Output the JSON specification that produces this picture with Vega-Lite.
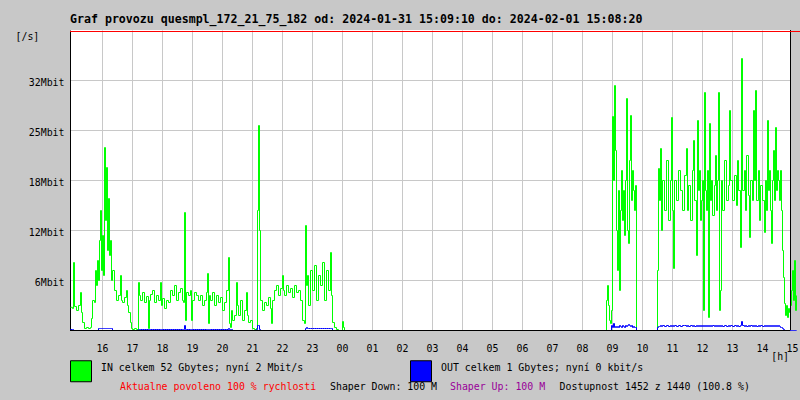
{
  "$schema": "https://vega.github.io/schema/vega-lite/v6.json",
  "width": 720,
  "height": 300,
  "autosize": {"type": "none"},
  "padding": {"left": 70, "top": 30, "right": 10, "bottom": 70},
  "background": "#c8c8c8",
  "view": {"fill": "#ffffff", "stroke": null},
  "title": {
    "text": "Graf provozu quesmpl_172_21_75_182 od: 2024-01-31 15:09:10 do: 2024-02-01 15:08:20",
    "anchor": "start",
    "frame": "group",
    "font": "DejaVu Sans Mono",
    "fontSize": 11.6,
    "fontWeight": "bold",
    "color": "#000000",
    "baseline": "alphabetic",
    "offset": 7,
    "dy": 12
  },
  "config": {
    "axis": {
      "labelFont": "DejaVu Sans Mono",
      "labelFontSize": 9.9,
      "labelColor": "#000000",
      "titleFont": "DejaVu Sans Mono",
      "titleFontSize": 9.9,
      "titleFontWeight": "normal",
      "titleColor": "#000000",
      "gridColor": "#c8c8c8",
      "gridOpacity": 1,
      "gridWidth": 1,
      "domainColor": "#000000",
      "domainWidth": 1,
      "ticks": false,
      "tickSize": 0
    },
    "legend": {
      "labelFont": "DejaVu Sans Mono",
      "labelFontSize": 9.9
    }
  },
  "resolve": {"axis": {"y": "independent"}},
  "data": {
    "format": {"parse": {"t": "utc:'%Y-%m-%d %H:%M'"}},
    "values": [
      {"t": "2024-01-31 14:56", "IN": 2.9, "OUT": 0.125},
      {"t": "2024-01-31 15:00", "IN": 2.75, "OUT": 0.125},
      {"t": "2024-01-31 15:02", "IN": 8.5, "OUT": 0},
      {"t": "2024-01-31 15:04", "IN": 3, "OUT": 0},
      {"t": "2024-01-31 15:08", "IN": 2.5, "OUT": 0},
      {"t": "2024-01-31 15:12", "IN": 3.125, "OUT": 0},
      {"t": "2024-01-31 15:16", "IN": 4.75, "OUT": 0},
      {"t": "2024-01-31 15:18", "IN": 2.25, "OUT": 0},
      {"t": "2024-01-31 15:20", "IN": 1, "OUT": 0},
      {"t": "2024-01-31 15:24", "IN": 0.25, "OUT": 0},
      {"t": "2024-01-31 15:28", "IN": 0.375, "OUT": 0},
      {"t": "2024-01-31 15:32", "IN": 0.25, "OUT": 0},
      {"t": "2024-01-31 15:36", "IN": 0.375, "OUT": 0},
      {"t": "2024-01-31 15:38", "IN": 1.5, "OUT": 0},
      {"t": "2024-01-31 15:40", "IN": 3.75, "OUT": 0},
      {"t": "2024-01-31 15:44", "IN": 3.5, "OUT": 0},
      {"t": "2024-01-31 15:46", "IN": 7.5, "OUT": 0},
      {"t": "2024-01-31 15:48", "IN": 5.625, "OUT": 0},
      {"t": "2024-01-31 15:50", "IN": 8.75, "OUT": 0},
      {"t": "2024-01-31 15:52", "IN": 6.25, "OUT": 0.25},
      {"t": "2024-01-31 15:54", "IN": 11.25, "OUT": 0.25},
      {"t": "2024-01-31 15:56", "IN": 15, "OUT": 0.25},
      {"t": "2024-01-31 15:58", "IN": 7.5, "OUT": 0.25},
      {"t": "2024-01-31 16:00", "IN": 11.875, "OUT": 0.25},
      {"t": "2024-01-31 16:02", "IN": 6.875, "OUT": 0.25},
      {"t": "2024-01-31 16:04", "IN": 22.875, "OUT": 0.25},
      {"t": "2024-01-31 16:06", "IN": 13.75, "OUT": 0.25},
      {"t": "2024-01-31 16:08", "IN": 20.375, "OUT": 0.25},
      {"t": "2024-01-31 16:10", "IN": 10, "OUT": 0.25},
      {"t": "2024-01-31 16:12", "IN": 16.5, "OUT": 0.25},
      {"t": "2024-01-31 16:14", "IN": 9.375, "OUT": 0.25},
      {"t": "2024-01-31 16:16", "IN": 11.25, "OUT": 0.25},
      {"t": "2024-01-31 16:18", "IN": 6.25, "OUT": 0.25},
      {"t": "2024-01-31 16:20", "IN": 7.5, "OUT": 0},
      {"t": "2024-01-31 16:24", "IN": 5, "OUT": 0},
      {"t": "2024-01-31 16:28", "IN": 3.75, "OUT": 0},
      {"t": "2024-01-31 16:32", "IN": 4.375, "OUT": 0},
      {"t": "2024-01-31 16:36", "IN": 6.875, "OUT": 0},
      {"t": "2024-01-31 16:38", "IN": 3.75, "OUT": 0},
      {"t": "2024-01-31 16:40", "IN": 3.5, "OUT": 0},
      {"t": "2024-01-31 16:44", "IN": 4.125, "OUT": 0},
      {"t": "2024-01-31 16:48", "IN": 5, "OUT": 0},
      {"t": "2024-01-31 16:50", "IN": 3.125, "OUT": 0},
      {"t": "2024-01-31 16:52", "IN": 2.25, "OUT": 0},
      {"t": "2024-01-31 16:56", "IN": 1, "OUT": 0},
      {"t": "2024-01-31 16:58", "IN": 0.25, "OUT": 0},
      {"t": "2024-01-31 17:00", "IN": 0.125, "OUT": 0},
      {"t": "2024-01-31 17:04", "IN": 0.25, "OUT": 0},
      {"t": "2024-01-31 17:08", "IN": 0.125, "OUT": 0},
      {"t": "2024-01-31 17:12", "IN": 6, "OUT": 0.125},
      {"t": "2024-01-31 17:14", "IN": 4.375, "OUT": 0.125},
      {"t": "2024-01-31 17:16", "IN": 3.75, "OUT": 0.125},
      {"t": "2024-01-31 17:20", "IN": 4.75, "OUT": 0.125},
      {"t": "2024-01-31 17:24", "IN": 3.5, "OUT": 0.125},
      {"t": "2024-01-31 17:28", "IN": 4.25, "OUT": 0.125},
      {"t": "2024-01-31 17:32", "IN": 0.25, "OUT": 0.125},
      {"t": "2024-01-31 17:34", "IN": 3.75, "OUT": 0.125},
      {"t": "2024-01-31 17:36", "IN": 4.5, "OUT": 0.125},
      {"t": "2024-01-31 17:40", "IN": 5, "OUT": 0.125},
      {"t": "2024-01-31 17:44", "IN": 3.5, "OUT": 0.125},
      {"t": "2024-01-31 17:48", "IN": 4.375, "OUT": 0.125},
      {"t": "2024-01-31 17:52", "IN": 3.75, "OUT": 0.125},
      {"t": "2024-01-31 17:56", "IN": 6, "OUT": 0.125},
      {"t": "2024-01-31 17:58", "IN": 3.125, "OUT": 0.125},
      {"t": "2024-01-31 18:00", "IN": 4, "OUT": 0.125},
      {"t": "2024-01-31 18:04", "IN": 2.75, "OUT": 0.125},
      {"t": "2024-01-31 18:08", "IN": 3.75, "OUT": 0.125},
      {"t": "2024-01-31 18:12", "IN": 3.5, "OUT": 0.125},
      {"t": "2024-01-31 18:16", "IN": 5, "OUT": 0.125},
      {"t": "2024-01-31 18:20", "IN": 4.375, "OUT": 0.125},
      {"t": "2024-01-31 18:24", "IN": 5.625, "OUT": 0.125},
      {"t": "2024-01-31 18:28", "IN": 3.75, "OUT": 0.125},
      {"t": "2024-01-31 18:32", "IN": 4.75, "OUT": 0.125},
      {"t": "2024-01-31 18:36", "IN": 5.25, "OUT": 0.125},
      {"t": "2024-01-31 18:40", "IN": 3.75, "OUT": 0.125},
      {"t": "2024-01-31 18:42", "IN": 3.5, "OUT": 0.125},
      {"t": "2024-01-31 18:44", "IN": 14.75, "OUT": 0.625},
      {"t": "2024-01-31 18:46", "IN": 1.25, "OUT": 0.125},
      {"t": "2024-01-31 18:48", "IN": 4.75, "OUT": 0.125},
      {"t": "2024-01-31 18:52", "IN": 4.375, "OUT": 0.125},
      {"t": "2024-01-31 18:56", "IN": 5, "OUT": 0.125},
      {"t": "2024-01-31 18:58", "IN": 1.25, "OUT": 0.125},
      {"t": "2024-01-31 19:00", "IN": 3.75, "OUT": 0.125},
      {"t": "2024-01-31 19:04", "IN": 4.75, "OUT": 0.125},
      {"t": "2024-01-31 19:08", "IN": 4.375, "OUT": 0.125},
      {"t": "2024-01-31 19:12", "IN": 3.75, "OUT": 0.125},
      {"t": "2024-01-31 19:16", "IN": 4.375, "OUT": 0.125},
      {"t": "2024-01-31 19:20", "IN": 3.125, "OUT": 0.125},
      {"t": "2024-01-31 19:24", "IN": 3.75, "OUT": 0.125},
      {"t": "2024-01-31 19:28", "IN": 4.75, "OUT": 0.125},
      {"t": "2024-01-31 19:30", "IN": 7.125, "OUT": 0.125},
      {"t": "2024-01-31 19:32", "IN": 0.875, "OUT": 0.125},
      {"t": "2024-01-31 19:34", "IN": 4.375, "OUT": 0.125},
      {"t": "2024-01-31 19:36", "IN": 3.75, "OUT": 0.125},
      {"t": "2024-01-31 19:40", "IN": 4.75, "OUT": 0.125},
      {"t": "2024-01-31 19:44", "IN": 3.125, "OUT": 0.125},
      {"t": "2024-01-31 19:48", "IN": 4.375, "OUT": 0.125},
      {"t": "2024-01-31 19:52", "IN": 3.5, "OUT": 0.125},
      {"t": "2024-01-31 19:56", "IN": 4.125, "OUT": 0.125},
      {"t": "2024-01-31 20:00", "IN": 2.5, "OUT": 0.125},
      {"t": "2024-01-31 20:04", "IN": 3.5, "OUT": 0.125},
      {"t": "2024-01-31 20:08", "IN": 5, "OUT": 0.125},
      {"t": "2024-01-31 20:12", "IN": 9.125, "OUT": 0.25},
      {"t": "2024-01-31 20:14", "IN": 0.875, "OUT": 0.125},
      {"t": "2024-01-31 20:16", "IN": 0.375, "OUT": 0.125},
      {"t": "2024-01-31 20:18", "IN": 2.5, "OUT": 0.125},
      {"t": "2024-01-31 20:20", "IN": 1.25, "OUT": 0},
      {"t": "2024-01-31 20:24", "IN": 1.875, "OUT": 0},
      {"t": "2024-01-31 20:28", "IN": 6, "OUT": 0},
      {"t": "2024-01-31 20:30", "IN": 3.125, "OUT": 0},
      {"t": "2024-01-31 20:32", "IN": 1.875, "OUT": 0},
      {"t": "2024-01-31 20:36", "IN": 3.75, "OUT": 0},
      {"t": "2024-01-31 20:40", "IN": 1.25, "OUT": 0},
      {"t": "2024-01-31 20:44", "IN": 2.5, "OUT": 0},
      {"t": "2024-01-31 20:48", "IN": 4.75, "OUT": 0},
      {"t": "2024-01-31 20:50", "IN": 1.875, "OUT": 0},
      {"t": "2024-01-31 20:52", "IN": 1, "OUT": 0},
      {"t": "2024-01-31 20:56", "IN": 1.25, "OUT": 0},
      {"t": "2024-01-31 21:00", "IN": 0.25, "OUT": 0},
      {"t": "2024-01-31 21:04", "IN": 0.125, "OUT": 0},
      {"t": "2024-01-31 21:08", "IN": 0.25, "OUT": 0.125},
      {"t": "2024-01-31 21:10", "IN": 15, "OUT": 0.625},
      {"t": "2024-01-31 21:12", "IN": 25.625, "OUT": 0.625},
      {"t": "2024-01-31 21:14", "IN": 12.5, "OUT": 0.125},
      {"t": "2024-01-31 21:16", "IN": 3.75, "OUT": 0},
      {"t": "2024-01-31 21:20", "IN": 2.5, "OUT": 0},
      {"t": "2024-01-31 21:24", "IN": 3.5, "OUT": 0},
      {"t": "2024-01-31 21:28", "IN": 3.125, "OUT": 0},
      {"t": "2024-01-31 21:32", "IN": 4.125, "OUT": 0},
      {"t": "2024-01-31 21:36", "IN": 2.75, "OUT": 0},
      {"t": "2024-01-31 21:38", "IN": 0.875, "OUT": 0},
      {"t": "2024-01-31 21:40", "IN": 3.75, "OUT": 0},
      {"t": "2024-01-31 21:44", "IN": 5, "OUT": 0},
      {"t": "2024-01-31 21:48", "IN": 5.625, "OUT": 0},
      {"t": "2024-01-31 21:52", "IN": 4.375, "OUT": 0},
      {"t": "2024-01-31 21:56", "IN": 5.25, "OUT": 0},
      {"t": "2024-01-31 22:00", "IN": 6.875, "OUT": 0},
      {"t": "2024-01-31 22:02", "IN": 5, "OUT": 0},
      {"t": "2024-01-31 22:04", "IN": 4.375, "OUT": 0},
      {"t": "2024-01-31 22:08", "IN": 5.625, "OUT": 0},
      {"t": "2024-01-31 22:12", "IN": 4.75, "OUT": 0},
      {"t": "2024-01-31 22:16", "IN": 5.25, "OUT": 0},
      {"t": "2024-01-31 22:20", "IN": 4.125, "OUT": 0},
      {"t": "2024-01-31 22:24", "IN": 5.625, "OUT": 0},
      {"t": "2024-01-31 22:28", "IN": 4.75, "OUT": 0},
      {"t": "2024-01-31 22:32", "IN": 5, "OUT": 0},
      {"t": "2024-01-31 22:36", "IN": 3.75, "OUT": 0},
      {"t": "2024-01-31 22:40", "IN": 1.25, "OUT": 0},
      {"t": "2024-01-31 22:44", "IN": 0.875, "OUT": 0},
      {"t": "2024-01-31 22:46", "IN": 13.125, "OUT": 0.25},
      {"t": "2024-01-31 22:48", "IN": 5.625, "OUT": 0.375},
      {"t": "2024-01-31 22:50", "IN": 6.875, "OUT": 0.25},
      {"t": "2024-01-31 22:52", "IN": 3.125, "OUT": 0.25},
      {"t": "2024-01-31 22:56", "IN": 7.5, "OUT": 0.25},
      {"t": "2024-01-31 23:00", "IN": 5, "OUT": 0.25},
      {"t": "2024-01-31 23:04", "IN": 8.125, "OUT": 0.25},
      {"t": "2024-01-31 23:08", "IN": 3.75, "OUT": 0.25},
      {"t": "2024-01-31 23:12", "IN": 6.875, "OUT": 0.25},
      {"t": "2024-01-31 23:16", "IN": 5.625, "OUT": 0.25},
      {"t": "2024-01-31 23:20", "IN": 8.5, "OUT": 0.25},
      {"t": "2024-01-31 23:24", "IN": 3.75, "OUT": 0.25},
      {"t": "2024-01-31 23:28", "IN": 7.5, "OUT": 0.25},
      {"t": "2024-01-31 23:32", "IN": 5, "OUT": 0.25},
      {"t": "2024-01-31 23:36", "IN": 9.75, "OUT": 0.25},
      {"t": "2024-01-31 23:38", "IN": 4.375, "OUT": 0.25},
      {"t": "2024-01-31 23:40", "IN": 1, "OUT": 0},
      {"t": "2024-01-31 23:44", "IN": 0.375, "OUT": 0},
      {"t": "2024-01-31 23:48", "IN": 0.125, "OUT": 0},
      {"t": "2024-01-31 23:52", "IN": 0, "OUT": 0},
      {"t": "2024-02-01 00:00", "IN": 1.125, "OUT": 0},
      {"t": "2024-02-01 00:02", "IN": 0.375, "OUT": 0},
      {"t": "2024-02-01 00:04", "IN": 0, "OUT": 0},
      {"t": "2024-02-01 08:46", "IN": 0, "OUT": 0},
      {"t": "2024-02-01 08:48", "IN": 3.75, "OUT": 0},
      {"t": "2024-02-01 08:50", "IN": 5.625, "OUT": 0},
      {"t": "2024-02-01 08:52", "IN": 3.125, "OUT": 0},
      {"t": "2024-02-01 08:54", "IN": 1.25, "OUT": 0},
      {"t": "2024-02-01 08:56", "IN": 0.875, "OUT": 0},
      {"t": "2024-02-01 08:58", "IN": 2.5, "OUT": 0.625},
      {"t": "2024-02-01 09:00", "IN": 26.75, "OUT": 0.375},
      {"t": "2024-02-01 09:02", "IN": 18.75, "OUT": 0.875},
      {"t": "2024-02-01 09:04", "IN": 30.625, "OUT": 0.375},
      {"t": "2024-02-01 09:06", "IN": 22.5, "OUT": 0.5},
      {"t": "2024-02-01 09:08", "IN": 12.5, "OUT": 0.375},
      {"t": "2024-02-01 09:10", "IN": 7.5, "OUT": 0.5},
      {"t": "2024-02-01 09:12", "IN": 17.5, "OUT": 0.375},
      {"t": "2024-02-01 09:14", "IN": 5, "OUT": 0.625},
      {"t": "2024-02-01 09:16", "IN": 15, "OUT": 0.5},
      {"t": "2024-02-01 09:18", "IN": 20, "OUT": 0.375},
      {"t": "2024-02-01 09:20", "IN": 13.75, "OUT": 0.625},
      {"t": "2024-02-01 09:22", "IN": 17.5, "OUT": 0.5},
      {"t": "2024-02-01 09:24", "IN": 11.875, "OUT": 0.375},
      {"t": "2024-02-01 09:26", "IN": 18.75, "OUT": 0.625},
      {"t": "2024-02-01 09:28", "IN": 29, "OUT": 0.5},
      {"t": "2024-02-01 09:30", "IN": 12.5, "OUT": 0.625},
      {"t": "2024-02-01 09:32", "IN": 10.875, "OUT": 0.75},
      {"t": "2024-02-01 09:34", "IN": 21.25, "OUT": 0.625},
      {"t": "2024-02-01 09:36", "IN": 26.875, "OUT": 0.5},
      {"t": "2024-02-01 09:38", "IN": 16.25, "OUT": 0.625},
      {"t": "2024-02-01 09:40", "IN": 20, "OUT": 0.375},
      {"t": "2024-02-01 09:42", "IN": 17.5, "OUT": 0.5},
      {"t": "2024-02-01 09:44", "IN": 15, "OUT": 0.375},
      {"t": "2024-02-01 09:46", "IN": 18.125, "OUT": 0.375},
      {"t": "2024-02-01 09:48", "IN": 0, "OUT": 0},
      {"t": "2024-02-01 10:28", "IN": 0, "OUT": 0},
      {"t": "2024-02-01 10:30", "IN": 7.5, "OUT": 0.375},
      {"t": "2024-02-01 10:32", "IN": 20.25, "OUT": 0.5},
      {"t": "2024-02-01 10:34", "IN": 16.25, "OUT": 0.5},
      {"t": "2024-02-01 10:36", "IN": 22.75, "OUT": 0.625},
      {"t": "2024-02-01 10:38", "IN": 12.5, "OUT": 0.5},
      {"t": "2024-02-01 10:40", "IN": 18.75, "OUT": 0.625},
      {"t": "2024-02-01 10:44", "IN": 15, "OUT": 0.5},
      {"t": "2024-02-01 10:48", "IN": 21.25, "OUT": 0.625},
      {"t": "2024-02-01 10:52", "IN": 13.75, "OUT": 0.5},
      {"t": "2024-02-01 10:56", "IN": 18.75, "OUT": 0.625},
      {"t": "2024-02-01 10:58", "IN": 26.625, "OUT": 0.5},
      {"t": "2024-02-01 11:00", "IN": 15, "OUT": 0.625},
      {"t": "2024-02-01 11:02", "IN": 7.75, "OUT": 0.5},
      {"t": "2024-02-01 11:04", "IN": 18.75, "OUT": 0.625},
      {"t": "2024-02-01 11:08", "IN": 16.25, "OUT": 0.5},
      {"t": "2024-02-01 11:12", "IN": 20, "OUT": 0.625},
      {"t": "2024-02-01 11:16", "IN": 17.5, "OUT": 0.5},
      {"t": "2024-02-01 11:20", "IN": 15, "OUT": 0.625},
      {"t": "2024-02-01 11:24", "IN": 19.375, "OUT": 0.625},
      {"t": "2024-02-01 11:28", "IN": 22.75, "OUT": 0.5},
      {"t": "2024-02-01 11:30", "IN": 15, "OUT": 0.625},
      {"t": "2024-02-01 11:32", "IN": 18.125, "OUT": 0.5},
      {"t": "2024-02-01 11:36", "IN": 13.75, "OUT": 0.625},
      {"t": "2024-02-01 11:40", "IN": 20, "OUT": 0.5},
      {"t": "2024-02-01 11:42", "IN": 23.75, "OUT": 0.625},
      {"t": "2024-02-01 11:44", "IN": 16.25, "OUT": 0.5},
      {"t": "2024-02-01 11:48", "IN": 9.375, "OUT": 0.625},
      {"t": "2024-02-01 11:50", "IN": 26.25, "OUT": 0.5},
      {"t": "2024-02-01 11:52", "IN": 17.5, "OUT": 0.625},
      {"t": "2024-02-01 11:54", "IN": 20, "OUT": 0.5},
      {"t": "2024-02-01 11:56", "IN": 13.75, "OUT": 0.625},
      {"t": "2024-02-01 11:58", "IN": 16.25, "OUT": 0.5},
      {"t": "2024-02-01 12:00", "IN": 18.75, "OUT": 0.625},
      {"t": "2024-02-01 12:02", "IN": 2.5, "OUT": 0.5},
      {"t": "2024-02-01 12:04", "IN": 29.75, "OUT": 0.625},
      {"t": "2024-02-01 12:06", "IN": 17.5, "OUT": 0.5},
      {"t": "2024-02-01 12:08", "IN": 15, "OUT": 0.625},
      {"t": "2024-02-01 12:10", "IN": 20, "OUT": 0.5},
      {"t": "2024-02-01 12:12", "IN": 1.625, "OUT": 0.625},
      {"t": "2024-02-01 12:14", "IN": 25.875, "OUT": 0.5},
      {"t": "2024-02-01 12:16", "IN": 16.25, "OUT": 0.625},
      {"t": "2024-02-01 12:18", "IN": 18.75, "OUT": 0.5},
      {"t": "2024-02-01 12:20", "IN": 14.375, "OUT": 0.625},
      {"t": "2024-02-01 12:24", "IN": 18.125, "OUT": 0.5},
      {"t": "2024-02-01 12:26", "IN": 21.875, "OUT": 0.625},
      {"t": "2024-02-01 12:28", "IN": 15, "OUT": 0.5},
      {"t": "2024-02-01 12:30", "IN": 18.75, "OUT": 0.625},
      {"t": "2024-02-01 12:32", "IN": 29.75, "OUT": 0.5},
      {"t": "2024-02-01 12:34", "IN": 2.5, "OUT": 0.625},
      {"t": "2024-02-01 12:36", "IN": 5, "OUT": 0.5},
      {"t": "2024-02-01 12:38", "IN": 18.75, "OUT": 0.625},
      {"t": "2024-02-01 12:40", "IN": 15, "OUT": 0.5},
      {"t": "2024-02-01 12:44", "IN": 21.25, "OUT": 0.625},
      {"t": "2024-02-01 12:48", "IN": 16.25, "OUT": 0.5},
      {"t": "2024-02-01 12:52", "IN": 18.125, "OUT": 0.625},
      {"t": "2024-02-01 12:54", "IN": 27.5, "OUT": 0.5},
      {"t": "2024-02-01 12:56", "IN": 18.75, "OUT": 0.625},
      {"t": "2024-02-01 13:00", "IN": 16.25, "OUT": 0.5},
      {"t": "2024-02-01 13:04", "IN": 19.375, "OUT": 0.625},
      {"t": "2024-02-01 13:08", "IN": 15.625, "OUT": 0.5},
      {"t": "2024-02-01 13:10", "IN": 21.25, "OUT": 0.625},
      {"t": "2024-02-01 13:12", "IN": 17.5, "OUT": 0.5},
      {"t": "2024-02-01 13:16", "IN": 10.375, "OUT": 0.625},
      {"t": "2024-02-01 13:18", "IN": 34, "OUT": 1.125},
      {"t": "2024-02-01 13:20", "IN": 17.5, "OUT": 0.625},
      {"t": "2024-02-01 13:24", "IN": 20, "OUT": 0.5},
      {"t": "2024-02-01 13:26", "IN": 15, "OUT": 0.625},
      {"t": "2024-02-01 13:28", "IN": 21.875, "OUT": 0.5},
      {"t": "2024-02-01 13:32", "IN": 16.875, "OUT": 0.625},
      {"t": "2024-02-01 13:34", "IN": 11.625, "OUT": 0.5},
      {"t": "2024-02-01 13:36", "IN": 18.75, "OUT": 0.625},
      {"t": "2024-02-01 13:40", "IN": 16.25, "OUT": 0.5},
      {"t": "2024-02-01 13:42", "IN": 27.5, "OUT": 0.625},
      {"t": "2024-02-01 13:44", "IN": 18.75, "OUT": 0.5},
      {"t": "2024-02-01 13:46", "IN": 30, "OUT": 0.625},
      {"t": "2024-02-01 13:48", "IN": 16.25, "OUT": 0.5},
      {"t": "2024-02-01 13:52", "IN": 20, "OUT": 0.625},
      {"t": "2024-02-01 13:54", "IN": 13.75, "OUT": 0.5},
      {"t": "2024-02-01 13:56", "IN": 18.125, "OUT": 0.625},
      {"t": "2024-02-01 14:00", "IN": 16.25, "OUT": 0.5},
      {"t": "2024-02-01 14:04", "IN": 12.25, "OUT": 0.625},
      {"t": "2024-02-01 14:06", "IN": 18.75, "OUT": 0.5},
      {"t": "2024-02-01 14:08", "IN": 15, "OUT": 0.625},
      {"t": "2024-02-01 14:10", "IN": 26.25, "OUT": 0.5},
      {"t": "2024-02-01 14:12", "IN": 17.5, "OUT": 0.625},
      {"t": "2024-02-01 14:14", "IN": 20, "OUT": 0.5},
      {"t": "2024-02-01 14:16", "IN": 15, "OUT": 0.625},
      {"t": "2024-02-01 14:18", "IN": 10.875, "OUT": 0.5},
      {"t": "2024-02-01 14:20", "IN": 18.75, "OUT": 0.625},
      {"t": "2024-02-01 14:22", "IN": 22.5, "OUT": 0.5},
      {"t": "2024-02-01 14:24", "IN": 16.25, "OUT": 0.625},
      {"t": "2024-02-01 14:26", "IN": 25.375, "OUT": 0.5},
      {"t": "2024-02-01 14:28", "IN": 17.5, "OUT": 0.625},
      {"t": "2024-02-01 14:30", "IN": 20, "OUT": 0.5},
      {"t": "2024-02-01 14:32", "IN": 18.75, "OUT": 0.625},
      {"t": "2024-02-01 14:34", "IN": 16.25, "OUT": 0.5},
      {"t": "2024-02-01 14:36", "IN": 20, "OUT": 0.375},
      {"t": "2024-02-01 14:38", "IN": 15, "OUT": 0.375},
      {"t": "2024-02-01 14:40", "IN": 10, "OUT": 0.25},
      {"t": "2024-02-01 14:42", "IN": 6.625, "OUT": 0.125},
      {"t": "2024-02-01 14:44", "IN": 3.375, "OUT": 0},
      {"t": "2024-02-01 14:46", "IN": 1.875, "OUT": 0},
      {"t": "2024-02-01 14:48", "IN": 3.125, "OUT": 0},
      {"t": "2024-02-01 14:50", "IN": 1.625, "OUT": 0},
      {"t": "2024-02-01 14:52", "IN": 2.75, "OUT": 0},
      {"t": "2024-02-01 14:54", "IN": 2.25, "OUT": 0},
      {"t": "2024-02-01 14:56", "IN": 3.125, "OUT": 0},
      {"t": "2024-02-01 14:58", "IN": 5, "OUT": 0},
      {"t": "2024-02-01 15:00", "IN": 7.5, "OUT": 0},
      {"t": "2024-02-01 15:02", "IN": 3.75, "OUT": 0},
      {"t": "2024-02-01 15:04", "IN": 8.75, "OUT": 0},
      {"t": "2024-02-01 15:06", "IN": 2.5, "OUT": 0},
      {"t": "2024-02-01 15:08", "IN": 4.375, "OUT": 0}
    ]
  },
  "transform": [{"fold": ["IN", "OUT"], "as": ["dir", "rate"]}],
  "layer": [
    {
      "mark": {"type": "line", "interpolate": "step-after", "strokeWidth": 1, "clip": false, "xOffset": 0.5, "yOffset": 0.5},
      "encoding": {
        "x": {
          "field": "t",
          "type": "temporal",
          "scale": {
            "type": "utc",
            "domain": [
              {"year": 2024, "month": 1, "date": 31, "hours": 14, "minutes": 56, "utc": true},
              {"year": 2024, "month": 2, "date": 1, "hours": 14, "minutes": 56, "utc": true}
            ]
          },
          "axis": {
            "values": [
              {"year": 2024, "month": 1, "date": 31, "hours": 16, "utc": true},
              {"year": 2024, "month": 1, "date": 31, "hours": 17, "utc": true},
              {"year": 2024, "month": 1, "date": 31, "hours": 18, "utc": true},
              {"year": 2024, "month": 1, "date": 31, "hours": 19, "utc": true},
              {"year": 2024, "month": 1, "date": 31, "hours": 20, "utc": true},
              {"year": 2024, "month": 1, "date": 31, "hours": 21, "utc": true},
              {"year": 2024, "month": 1, "date": 31, "hours": 22, "utc": true},
              {"year": 2024, "month": 1, "date": 31, "hours": 23, "utc": true},
              {"year": 2024, "month": 2, "date": 1, "hours": 0, "utc": true},
              {"year": 2024, "month": 2, "date": 1, "hours": 1, "utc": true},
              {"year": 2024, "month": 2, "date": 1, "hours": 2, "utc": true},
              {"year": 2024, "month": 2, "date": 1, "hours": 3, "utc": true},
              {"year": 2024, "month": 2, "date": 1, "hours": 4, "utc": true},
              {"year": 2024, "month": 2, "date": 1, "hours": 5, "utc": true},
              {"year": 2024, "month": 2, "date": 1, "hours": 6, "utc": true},
              {"year": 2024, "month": 2, "date": 1, "hours": 7, "utc": true},
              {"year": 2024, "month": 2, "date": 1, "hours": 8, "utc": true},
              {"year": 2024, "month": 2, "date": 1, "hours": 9, "utc": true},
              {"year": 2024, "month": 2, "date": 1, "hours": 10, "utc": true},
              {"year": 2024, "month": 2, "date": 1, "hours": 11, "utc": true},
              {"year": 2024, "month": 2, "date": 1, "hours": 12, "utc": true},
              {"year": 2024, "month": 2, "date": 1, "hours": 13, "utc": true},
              {"year": 2024, "month": 2, "date": 1, "hours": 14, "utc": true}
            ],
            "tickCount": 40,
            "format": "%H",
            "labelAlign": "center",
            "labelBaseline": "alphabetic",
            "labelPadding": 21,
            "labelFlush": false,
            "labelOverlap": false,
            "labelBound": false,
            "title": "[h]",
            "titleX": 700.7,
            "titleY": 29,
            "titleAlign": "left",
            "titleBaseline": "alphabetic",
            "titleAnchor": null
          }
        },
        "y": {
          "field": "rate",
          "type": "quantitative",
          "scale": {"domain": [0, 37.5], "nice": false, "zero": true},
          "axis": {
            "orient": "left",
            "values": [6.25, 12.5, 18.75, 25, 31.25],
            "labelExpr": "datum.value == 6.25 ? '6Mbit' : datum.value == 12.5 ? '12Mbit' : datum.value == 18.75 ? '18Mbit' : datum.value == 25 ? '25Mbit' : '32Mbit'",
            "labelPadding": 6,
            "labelBaseline": "alphabetic",
            "labelOffset": 5.7,
            "title": "[/s]",
            "titleAngle": 0,
            "titleX": -55,
            "titleY": 9.7,
            "titleAlign": "left",
            "titleBaseline": "alphabetic",
            "titleAnchor": null
          }
        },
        "stroke": {
          "field": "dir",
          "type": "nominal",
          "scale": {"range": ["#00ff00", "#0000ff"]},
          "legend": null
        }
      }
    },
    {
      "data": {"values": []},
      "mark": {"type": "point", "shape": "square", "filled": true, "stroke": "#000000", "strokeWidth": 1, "opacity": 1},
      "encoding": {
        "fill": {
          "field": "series",
          "type": "nominal",
          "scale": {"domain": ["IN", "OUT"], "range": ["#00ff00", "#0000ff"]},
          "legend": {
            "orient": "none",
            "legendX": 0,
            "legendY": 330,
            "direction": "horizontal",
            "columns": 2,
            "title": null,
            "padding": 0,
            "symbolType": "square",
            "symbolSize": 441,
            "symbolStrokeColor": "#000000",
            "symbolStrokeWidth": 1,
            "symbolOpacity": 1,
            "labelOffset": 9,
            "labelLimit": 0,
            "labelColor": "#000000",
            "labelBaseline": "alphabetic",
            "columnPadding": 104,
            "labelExpr": "datum.label == 'IN' ? 'IN celkem 52 Gbytes; nyní 2 Mbit/s' : 'OUT celkem 1 Gbytes; nyní 0 kbit/s'"
          }
        }
      }
    },
    {
      "data": {"values": []},
      "mark": {"type": "point", "opacity": 0},
      "encoding": {
        "shape": {
          "field": "note_a",
          "type": "nominal",
          "scale": {"domain": ["Aktualne povoleno 100 % rychlosti"], "range": ["square"]},
          "legend": {
            "orient": "none", "legendX": 40, "legendY": 355, "title": null, "padding": 0,
            "symbolOpacity": 0, "symbolStrokeWidth": 0, "labelOffset": 0, "labelLimit": 0,
            "labelBaseline": "alphabetic", "labelColor": "#ff0000"
          }
        }
      }
    },
    {
      "data": {"values": []},
      "mark": {"type": "point", "opacity": 0},
      "encoding": {
        "color": {
          "field": "note_b",
          "type": "nominal",
          "scale": {"domain": ["Shaper Down: 100 M", "Dostupnost 1452 z 1440 (100.8 %)"], "range": ["#000000", "#000000"]},
          "legend": {
            "orient": "none", "legendX": 250, "legendY": 355, "title": null, "padding": 0,
            "direction": "horizontal", "columns": 2, "columnPadding": 111.6, "gridAlign": "none",
            "symbolOpacity": 0, "symbolStrokeWidth": 0, "labelOffset": 0, "labelLimit": 0,
            "labelBaseline": "alphabetic", "labelColor": "#000000"
          }
        }
      }
    },
    {
      "data": {"values": []},
      "mark": {"type": "line", "opacity": 0},
      "encoding": {
        "strokeDash": {
          "field": "note_c",
          "type": "nominal",
          "scale": {"domain": ["Shaper Up: 100 M"], "range": [[1, 0]]},
          "legend": {
            "orient": "none", "legendX": 370, "legendY": 355, "title": null, "padding": 0,
            "symbolOpacity": 0, "symbolStrokeWidth": 0, "labelOffset": 0, "labelLimit": 0,
            "labelBaseline": "alphabetic", "labelColor": "#990099"
          }
        }
      }
    },
    {
      "data": {"values": [{}]},
      "mark": {"type": "rule", "color": "#000000", "strokeWidth": 1, "yOffset": 0.5},
      "encoding": {
        "y": {
          "datum": 0,
          "type": "quantitative",
          "axis": {
            "orient": "right",
            "title": "15",
            "titleAngle": 0,
            "titleX": 2,
            "titleY": 321,
            "titleAlign": "center",
            "titleBaseline": "alphabetic",
            "titleAnchor": null,
            "labels": false,
            "domain": false,
            "ticks": false,
            "grid": false
          }
        }
      }
    },
    {
      "data": {"values": [{}]},
      "mark": {"type": "rule", "color": "#000000", "strokeWidth": 1, "xOffset": 0.5},
      "encoding": {"x": {"datum": {"year": 2024, "month": 2, "date": 1, "hours": 14, "minutes": 56, "utc": true}, "type": "temporal"}}
    },
    {
      "data": {"values": [{}]},
      "mark": {"type": "rule", "color": "#ff0000", "strokeWidth": 1, "yOffset": 1.5},
      "encoding": {
        "y": {"datum": 37.5, "type": "quantitative", "axis": null},
        "x": {"datum": {"year": 2024, "month": 1, "date": 31, "hours": 14, "minutes": 56, "utc": true}, "type": "temporal"},
        "x2": {"datum": {"year": 2024, "month": 2, "date": 1, "hours": 15, "minutes": 16, "utc": true}}
      }
    }
  ]
}
